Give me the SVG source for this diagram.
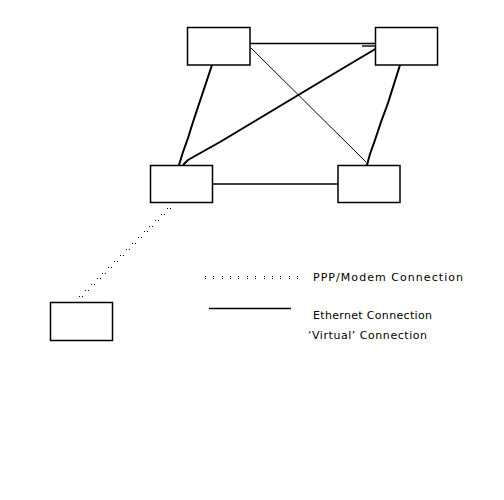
<svg xmlns="http://www.w3.org/2000/svg" width="504" height="500" viewBox="0 0 504 500">
<style>
.box{fill:#fff;stroke:#000;stroke-width:1.5}
.thin{stroke:#000;stroke-width:1;fill:none}
.eth{stroke:#000;stroke-width:1.4;fill:none}
.thick{stroke:#000;stroke-width:2;fill:none;stroke-linejoin:round}
.lbl{font-family:"DejaVu Sans",sans-serif;font-size:11px;fill:#000}
</style>
<defs>
<g id="pair"><rect x="0" y="0" width="1" height="1"/><rect x="3" y="0" width="1" height="1"/></g>
<g id="colon"><rect x="0" y="0" width="1" height="1"/><rect x="0" y="2" width="1" height="1"/></g>
</defs>
<rect width="504" height="500" fill="#fff"/>
<g id="connectors">
<line class="eth" x1="250" y1="43.5" x2="375" y2="43.5"/>
<line class="eth" x1="362" y1="46" x2="375" y2="46"/>
<line class="thin" x1="251" y1="48" x2="366" y2="162"/>
<line class="eth" x1="212" y1="184" x2="338" y2="184"/>
<polyline class="thick" points="212,65 205,86 199,104 193,122 188,138 183,152 179,165"/>
<polyline class="thick" points="377,48 340,70 300,94 260,118 220,142 195,156 188,160 183,165"/>
<polyline class="thick" points="400,65 394,84 388,103 381,122 375,140 370,154 367,165"/>
<g id="dotted">
<use href="#pair" x="167" y="208"/><use href="#pair" x="161" y="214"/><use href="#pair" x="155" y="220"/><use href="#pair" x="149" y="226"/>
<use href="#pair" x="144" y="231"/><use href="#pair" x="138" y="237"/><use href="#pair" x="132" y="243"/><use href="#pair" x="126" y="249"/>
<use href="#pair" x="120" y="255"/><use href="#pair" x="114" y="261"/><use href="#pair" x="108" y="267"/><use href="#pair" x="102" y="273"/>
<use href="#pair" x="97" y="278"/><use href="#pair" x="91" y="284"/><use href="#pair" x="85" y="290"/><use href="#pair" x="79" y="296"/>
</g>
</g>
<g id="node-tl"><rect class="box" x="187.5" y="27.5" width="62.5" height="37.5"/></g>
<g id="node-tr"><rect class="box" x="375.5" y="27.5" width="62" height="37.5"/></g>
<g id="node-bl"><rect class="box" x="150.5" y="165.5" width="62" height="37"/></g>
<g id="node-br"><rect class="box" x="338" y="165.5" width="62" height="37"/></g>
<g id="node-lone"><rect class="box" x="50.5" y="302.5" width="62" height="38"/></g>
<g id="legend">
<use href="#colon" x="205" y="276"/><use href="#colon" x="213" y="276"/><use href="#colon" x="222" y="276"/><use href="#colon" x="230" y="276"/>
<use href="#colon" x="238" y="276"/><use href="#colon" x="247" y="276"/><use href="#colon" x="255" y="276"/><use href="#colon" x="264" y="276"/>
<use href="#colon" x="272" y="276"/><use href="#colon" x="280" y="276"/><use href="#colon" x="289" y="276"/><use href="#colon" x="297" y="276"/>
<line class="eth" x1="209" y1="308.5" x2="291" y2="308.5"/>
<text class="lbl" x="313" y="281" textLength="150" lengthAdjust="spacing">PPP/Modem Connection</text>
<text class="lbl" x="313" y="319" textLength="119" lengthAdjust="spacing">Ethernet Connection</text>
<text class="lbl" x="308" y="339" textLength="119" lengthAdjust="spacing">‘Virtual’ Connection</text>
</g>
</svg>
